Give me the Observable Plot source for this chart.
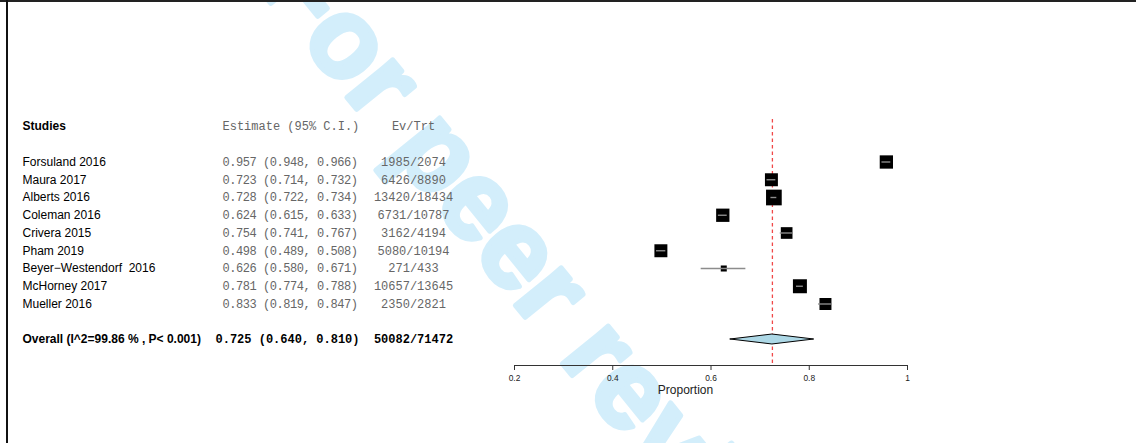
<!DOCTYPE html>
<html>
<head>
<meta charset="utf-8">
<script src="https://cdn.jsdelivr.net/npm/d3@7"></script>
<script src="https://cdn.jsdelivr.net/npm/@observablehq/plot@0.6"></script>
<style>
  html, body { margin: 0; padding: 0; background: #fff; }
  #wrap { position: relative; width: 1136px; height: 443px; overflow: hidden; background: #fff; }
  #wm { position: absolute; left: 0; top: 0; }
  #chart { position: absolute; left: 0; top: 0; }
  #chart svg { background: transparent; }
  #chart .est text { letter-spacing: -0.45px; }
  .bt { position: absolute; left: 0; top: 0; width: 1136px; height: 1.5px; background: #222; }
  .bl { position: absolute; left: 6px; top: 0; width: 1.7px; height: 443px; background: #111; }
</style>
</head>
<body>
<div id="wrap">
  <svg id="wm" width="1136" height="443">
    <text x="256" y="-15" transform="rotate(51 256 -15)" fill="#d3eefb" stroke="#d3eefb" stroke-width="5"
      stroke-linejoin="round"
      font-family="'Liberation Sans', Arial, sans-serif" font-weight="bold" font-size="112">For peer review</text>
  </svg>
  <div id="chart"></div>
  <div class="bt"></div>
  <div class="bl"></div>
</div>
<script>
// ---- data ----
const studyNames = ["Forsuland 2016", "Maura 2017", "Alberts 2016", "Coleman 2016", "Crivera 2015",
  "Pham 2019", "Beyer\u2212Westendorf  2016", "McHorney 2017", "Mueller 2016"];
const estimates = [0.957, 0.723, 0.728, 0.624, 0.754, 0.498, 0.626, 0.781, 0.833];
const lowerCI   = [0.948, 0.714, 0.722, 0.615, 0.741, 0.489, 0.580, 0.774, 0.819];
const upperCI   = [0.966, 0.732, 0.734, 0.633, 0.767, 0.508, 0.671, 0.788, 0.847];
const events    = [1985, 6426, 13420, 6731, 3162, 5080, 271, 10657, 2350];
const totals    = [2074, 8890, 18434, 10787, 4194, 10194, 433, 13645, 2821];
const weights   = [12.2, 11.6, 17.0, 12.2, 9.4, 11.6, 2.5, 13.5, 9.9];
const overallLabel = "Overall (I^2=99.86 % , P< 0.001)";
const overallEst = 0.725, overallLo = 0.640, overallHi = 0.810;
const overallEvents = 50082, overallTotal = 71472;
const xTicks = [0.2, 0.4, 0.6, 0.8, 1];
const headers = {study: "Studies", estimate: "Estimate (95% C.I.)", evtrt: "Ev/Trt"};
const xLabel = "Proportion";

// ---- derived table ----
const f3 = v => v.toFixed(3);
const rows = studyNames.map((name, i) => ({
  row: i, name, est: estimates[i], lo: lowerCI[i], hi: upperCI[i], w: weights[i],
  estText: `${f3(estimates[i])} (${f3(lowerCI[i])}, ${f3(upperCI[i])})`,
  evText: `${events[i]}/${totals[i]}`
}));
const overallRow = studyNames.length + 1;
const headerRow = -2;
const dh = 0.28; // diamond half height in row units
const diamond = [
  {x: overallLo, y1: overallRow, y2: overallRow},
  {x: overallEst, y1: overallRow - dh, y2: overallRow + dh},
  {x: overallHi, y1: overallRow, y2: overallRow}
];

const sans = "'Liberation Sans', Arial, Helvetica, sans-serif";
const mono = "'Liberation Mono', 'Courier New', monospace";
const left = 514; // frame left edge
const colStudy = 22 - left, colEst = 222 - left, colEstB = 215 - left, colEv = 413 - left;

const chart = Plot.plot({
  width: 1136,
  height: 443,
  marginLeft: left,
  marginRight: 229,
  marginTop: 119,
  marginBottom: 78,
  style: {background: "transparent", fontFamily: sans},
  x: {domain: [0.2, 1]},
  y: {domain: [0, 10], range: [161.5, 339], axis: null},
  r: {type: "sqrt", domain: [0, 17], range: [0, 8.86]},
  marks: [
    Plot.frame({anchor: "bottom", stroke: "#333"}),
    Plot.axisX({ticks: xTicks, tickFormat: d => String(d), tickSize: 5, tickPadding: 5,
      fontSize: 8.4, label: null, stroke: "#333", fill: "#222", fontFamily: sans}),
    Plot.ruleX([overallEst], {stroke: "#f04848", strokeWidth: 1.3, strokeDasharray: "3.5,3"}),
    Plot.dot(rows, {x: "est", y: "row", r: "w", symbol: "square", fill: "black", stroke: "none"}),
    Plot.ruleY(rows, {x1: "lo", x2: "hi", y: "row", stroke: "#8c8c8c", strokeWidth: 1.4}),
    Plot.areaY(diamond, {x: "x", y1: "y1", y2: "y2", fill: "#add8e6", stroke: "black", strokeWidth: 1}),
    // text table
    Plot.text([headers.study], {y: () => headerRow, frameAnchor: "left", dx: colStudy, textAnchor: "start",
      fontSize: 12, fontWeight: "bold", fontFamily: sans, fill: "black"}),
    Plot.text([headers.estimate], {y: () => headerRow, frameAnchor: "left", dx: colEst, textAnchor: "start",
      fontSize: 12, fontFamily: mono, fill: "#666"}),
    Plot.text([headers.evtrt], {y: () => headerRow, frameAnchor: "left", dx: colEv, textAnchor: "middle",
      fontSize: 12, fontFamily: mono, fill: "#666"}),
    Plot.text(rows, {y: "row", text: "name", frameAnchor: "left", dx: colStudy, textAnchor: "start",
      fontSize: 12, fontFamily: sans, fill: "black"}),
    Plot.text(rows, {y: "row", text: "estText", frameAnchor: "left", dx: colEst, textAnchor: "start",
      fontSize: 12, fontFamily: mono, fill: "#666", className: "est"}),
    Plot.text(rows, {y: "row", text: "evText", frameAnchor: "left", dx: colEv, textAnchor: "middle",
      fontSize: 12, fontFamily: mono, fill: "#666"}),
    Plot.text([overallLabel], {y: () => overallRow, frameAnchor: "left", dx: colStudy, textAnchor: "start",
      fontSize: 12, fontWeight: "bold", fontFamily: sans, fill: "black"}),
    Plot.text([`${f3(overallEst)} (${f3(overallLo)}, ${f3(overallHi)})`], {y: () => overallRow, frameAnchor: "left",
      dx: colEstB, textAnchor: "start", fontSize: 12, fontWeight: "bold", fontFamily: mono, fill: "black"}),
    Plot.text([`${overallEvents}/${overallTotal}`], {y: () => overallRow, frameAnchor: "left", dx: colEv,
      textAnchor: "middle", fontSize: 12, fontWeight: "bold", fontFamily: mono, fill: "black"}),
    Plot.text([xLabel], {frameAnchor: "bottom", dx: -25.5, dy: 28, fontSize: 12, fontFamily: sans, fill: "#222"})
  ]
});
document.getElementById("chart").appendChild(chart);
</script>
</body>
</html>
